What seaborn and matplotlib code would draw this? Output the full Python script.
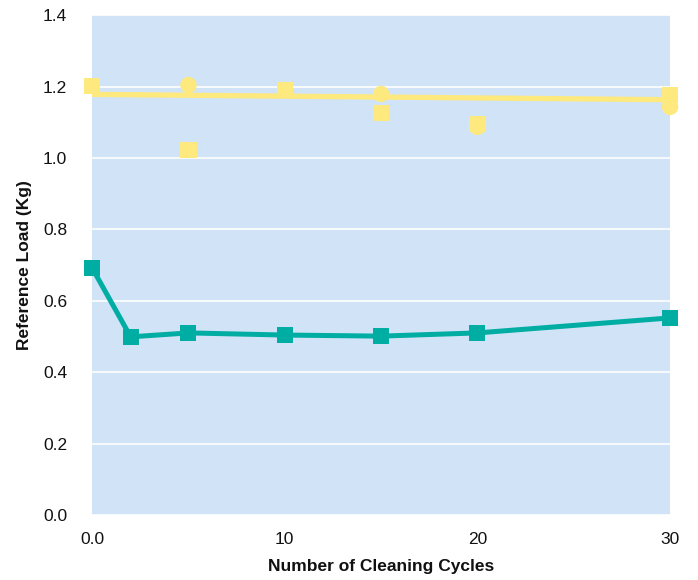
import matplotlib
matplotlib.use("Agg")
import matplotlib.pyplot as plt
import seaborn as sns
import pandas as pd
from matplotlib.ticker import FixedLocator, FixedFormatter

# Data
teal_x = [0, 2, 5, 10, 15, 20, 30]
teal_y = [0.692, 0.499, 0.510, 0.504, 0.501, 0.510, 0.552]

yellow_sq_x = [0, 5, 10, 15, 20, 30]
yellow_sq_y = [1.202, 1.022, 1.190, 1.126, 1.095, 1.176]

yellow_ci_x = [5, 15, 20, 30]
yellow_ci_y = [1.204, 1.179, 1.087, 1.143]

trend_x = [0, 30]
trend_y = [1.178, 1.163]

x_ticks = [0, 10, 20, 30]
x_tick_labels = ["0.0", "10", "20", "30"]
y_ticks = [0.0, 0.2, 0.4, 0.6, 0.8, 1.0, 1.2, 1.4]
y_tick_labels = ["0.0", "0.2", "0.4", "0.6", "0.8", "1.0", "1.2", "1.4"]

sns.set_theme(style="white")
FAM = ['Liberation Sans', 'DejaVu Sans']
plt.rcParams['font.family'] = FAM

TEAL = "#00ada3"
YELLOW = "#fde97e"
BG = "#d1e3f7"

fig = plt.figure(figsize=(6.98, 5.8), dpi=100)
ax = fig.add_axes([0.132, 0.112, 0.828, 0.862])
ax.set_facecolor(BG)
for s in ax.spines.values():
    s.set_visible(False)

ax.set_xlim(0, 30)
ax.set_ylim(0, 1.4)
ax.yaxis.set_major_locator(FixedLocator(y_ticks))
ax.yaxis.set_major_formatter(FixedFormatter(y_tick_labels))
ax.xaxis.set_major_locator(FixedLocator(x_ticks))
ax.xaxis.set_major_formatter(FixedFormatter(x_tick_labels))
ax.grid(axis="y", color="white", linewidth=1.2)
ax.set_axisbelow(True)
ax.tick_params(axis="y", length=0, labelsize=12.5, colors="#111111", pad=18)
ax.tick_params(axis="x", length=0, labelsize=12.5, colors="#111111", pad=12)

df_teal = pd.DataFrame({"x": teal_x, "y": teal_y})
df_sq = pd.DataFrame({"x": yellow_sq_x, "y": yellow_sq_y})
df_ci = pd.DataFrame({"x": yellow_ci_x, "y": yellow_ci_y})
df_tr = pd.DataFrame({"x": trend_x, "y": trend_y})

sns.scatterplot(data=df_ci, x="x", y="y", ax=ax, marker="o", s=140, color=YELLOW,
                edgecolor="none", clip_on=False, zorder=3)
sns.scatterplot(data=df_sq, x="x", y="y", ax=ax, marker="s", s=135, color=YELLOW,
                edgecolor="none", clip_on=False, zorder=3)
sns.lineplot(data=df_tr, x="x", y="y", ax=ax, color=YELLOW, linewidth=3.8, zorder=4)
sns.lineplot(data=df_teal, x="x", y="y", ax=ax, color=TEAL, linewidth=3.6,
             marker="s", markersize=11.5, markeredgewidth=0, zorder=5, clip_on=False)

ax.set_xlabel("Number of Cleaning Cycles", fontsize=12.5, fontweight="bold", labelpad=9,
              family=FAM, color="#111111")
ax.set_ylabel("Reference Load (Kg)", fontsize=12.5, fontweight="bold", labelpad=8,
              family=FAM, color="#111111")

fig.savefig("out.png", dpi=100, facecolor="white")
